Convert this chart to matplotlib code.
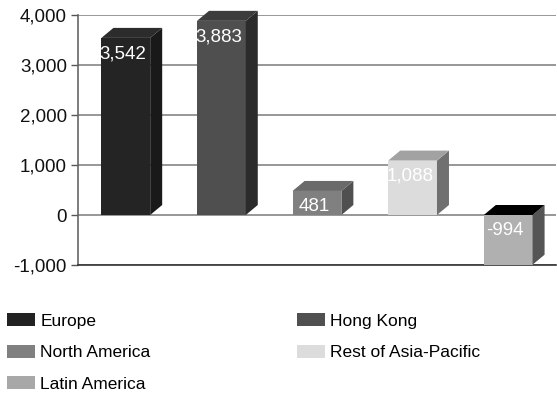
import matplotlib
matplotlib.use("Agg")
import matplotlib.pyplot as plt
from matplotlib.patches import Polygon, Patch

plt.rcParams["font.family"] = ["Liberation Sans", "DejaVu Sans"]

# Regional values
regions = ["Europe", "Hong Kong", "North America", "Rest of Asia-Pacific", "Latin America"]
values = [3542, 3883, 481, 1088, -994]
value_labels = ["3,542", "3,883", "481", "1,088", "-994"]

# Face colours for each bar: front, side, top
front_colors = ["#242424", "#4f4f4f", "#808080", "#dcdcdc", "#b0b0b0"]
side_colors = ["#191919", "#2b2b2b", "#505050", "#707070", "#555555"]
top_colors = ["#2c2c2c", "#3c3c3c", "#6a6a6a", "#a2a2a2", "#000000"]
legend_colors = ["#222222", "#505050", "#808080", "#dcdcdc", "#a8a8a8"]

y_ticks = [-1000, 0, 1000, 2000, 3000, 4000]
y_tick_labels = ["-1,000", "0", "1,000", "2,000", "3,000", "4,000"]

W, H = 557, 393
fig = plt.figure(figsize=(W / 100, H / 100), dpi=100)
ax = fig.add_axes([78 / W, 1 - 265 / H, (556 - 78) / W, 250 / H])

n = len(regions)
ax.set_xlim(-0.5, n - 0.5)
ax.set_ylim(-1000, 4000)

bar_w = 0.51
# depth of the 3D extrusion, in data units (about 12 px across, 10 px up)
dx = 12 / ((556 - 78) / n)
dy = 10 * 5000 / 250

for i, v in enumerate(values):
    x0 = i - bar_w / 2
    x1 = i + bar_w / 2
    lo, hi = min(0, v), max(0, v)
    ax.bar(i, v, width=bar_w, color=front_colors[i], zorder=3)
    side = Polygon([(x1, lo), (x1 + dx, lo + dy), (x1 + dx, hi + dy), (x1, hi)],
                   closed=True, facecolor=side_colors[i], edgecolor="none",
                   zorder=3, clip_on=False)
    top = Polygon([(x0, hi), (x0 + dx, hi + dy), (x1 + dx, hi + dy), (x1, hi)],
                  closed=True, facecolor=top_colors[i], edgecolor="none",
                  zorder=3, clip_on=False)
    ax.add_patch(side)
    ax.add_patch(top)
    ax.annotate(value_labels[i], (i - 0.03, hi), xytext=(0, -10), textcoords="offset points",
                ha="center", va="center_baseline", color="white", fontsize=13.5, zorder=5)

ax.set_yticks(y_ticks)
ax.set_yticklabels(y_tick_labels)
ax.set_xticks([])
ax.tick_params(axis="y", length=5, width=1, color="#555555", labelsize=13.5,
               labelcolor="#111111", pad=3)
ax.yaxis.grid(True, color="#858585", linewidth=1.2, zorder=0)
ax.set_axisbelow(True)
for s in ["top", "right"]:
    ax.spines[s].set_visible(False)
ax.spines["left"].set_color("#666666")
ax.spines["left"].set_linewidth(1.2)
ax.spines["bottom"].set_color("#333333")
ax.spines["bottom"].set_linewidth(1.2)

handles = [Patch(facecolor=c, edgecolor="none") for c in legend_colors]
order = [0, 2, 4, 1, 3]
leg = fig.legend([handles[k] for k in order], [regions[k] for k in order],
                 ncol=2, loc="upper left", frameon=False, fontsize=12.5,
                 handlelength=1.63, handleheight=0.78, handletextpad=0.28,
                 columnspacing=8.45, labelspacing=0.92,
                 borderpad=0.0, borderaxespad=0.0)
leg.set_bbox_to_anchor((7 / W, 1 - 313 / H), transform=fig.transFigure)

fig.savefig("out.png", dpi=100)
